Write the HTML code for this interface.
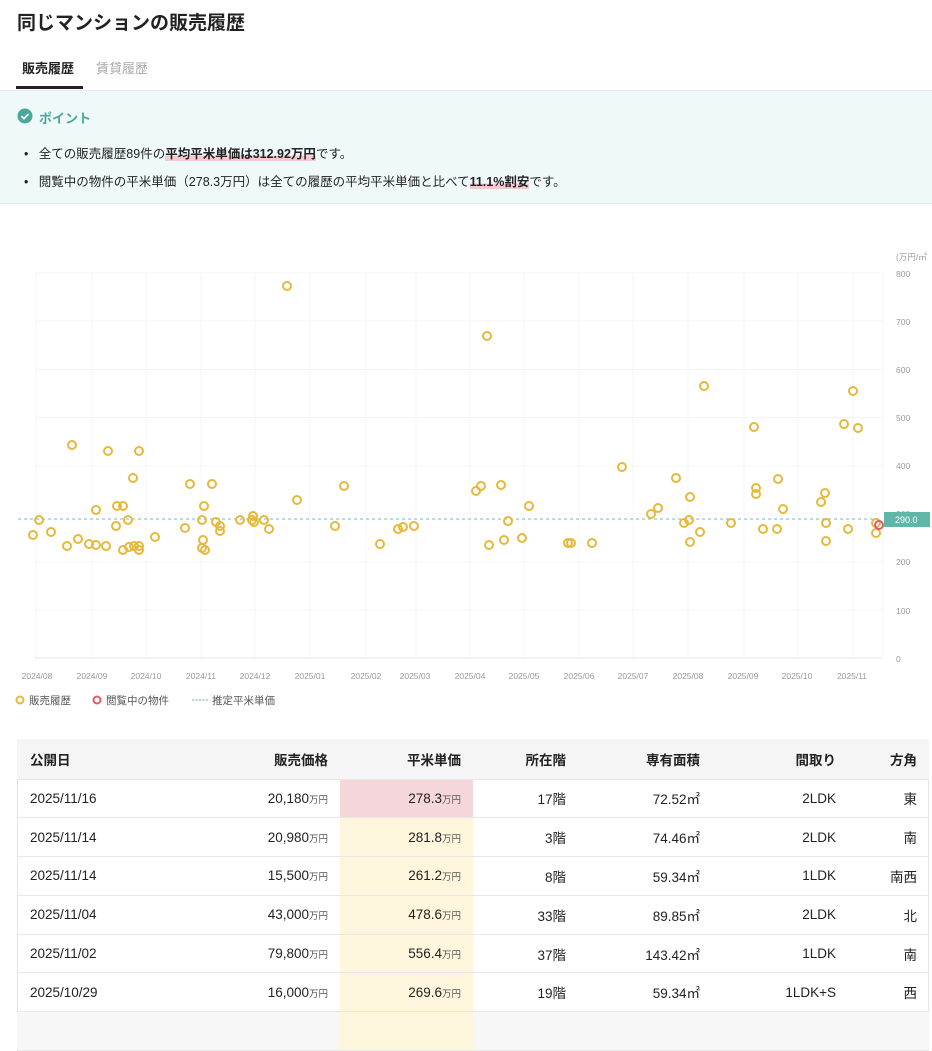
<!DOCTYPE html>
<html><head><meta charset="utf-8"><style>
*{margin:0;padding:0;box-sizing:border-box}
body{width:932px;height:1024px;overflow:hidden;background:#fff;font-family:"Liberation Sans","Noto Sans CJK JP",sans-serif;color:#222;position:relative}
.abs{position:absolute}
h1{position:absolute;left:17px;top:8px;font-size:19px;font-weight:bold;color:#222}
.tab{position:absolute;top:58px;font-size:13px}
.point{position:absolute;left:0;top:90px;width:932px;height:114px;background:#f0f9fa;border-top:1px solid #e6eaec;border-bottom:1px solid #e6eaec}
.li{position:absolute;left:24px;font-size:12.5px;color:#222}
.hl{font-weight:bold;background:linear-gradient(transparent 62%,#f6c9cf 62%)}
table{position:absolute;left:17px;top:739px;width:912px;border-collapse:collapse;font-size:13.5px;table-layout:fixed}
.tbl{position:absolute;left:17px;top:739px;width:912px;height:300px;border:1px solid #e4e4e4;border-radius:8px;overflow:hidden}
td,th{height:38.8px;border-bottom:1px solid #e8e8e8;text-align:right;padding:0 12px 0 0}
th{background:#f5f5f5;font-weight:bold;height:40px}
td:first-child,th:first-child{text-align:left;padding-left:13px}
small{font-size:9.5px;color:#555}
.u{background:#fdf6dc}
.r{background:#f5d6da}
</style></head><body>
<h1>同じマンションの販売履歴</h1>
<div class="tab" style="left:22px;font-weight:bold">販売履歴</div>
<div class="tab" style="left:96px;color:#aaa">賃貸履歴</div>
<div class="abs" style="left:16px;top:86px;width:67px;height:3px;background:#222"></div>
<div class="point">
<svg class="abs" style="left:17px;top:17px" width="16" height="16"><circle cx="8" cy="8" r="7.5" fill="#4aa89a"/><path d="M4.5 8.2l2.4 2.4 4.6-4.6" stroke="#fff" stroke-width="1.8" fill="none"/></svg>
<div class="abs" style="left:39px;top:17px;font-size:13px;color:#4aa89a;font-weight:bold">ポイント</div>
<div class="li" style="top:52px">•&nbsp;&nbsp; 全ての販売履歴89件の<span class="hl">平均平米単価は312.92万円</span>です。</div>
<div class="li" style="top:80px">•&nbsp;&nbsp; 閲覧中の物件の平米単価（278.3万円）は全ての履歴の平均平米単価と比べて<span class="hl">11.1%割安</span>です。</div>
</div>
<svg class="abs" style="left:0;top:240px" width="932" height="480" font-family="Liberation Sans, Noto Sans CJK JP, sans-serif">
<g stroke="#f4f4f4" stroke-width="1">
<line x1="35" x2="882" y1="33" y2="33"/><line x1="35" x2="882" y1="81" y2="81"/><line x1="35" x2="882" y1="129.5" y2="129.5"/><line x1="35" x2="882" y1="177.5" y2="177.5"/><line x1="35" x2="882" y1="226" y2="226"/><line x1="35" x2="882" y1="274" y2="274"/><line x1="35" x2="882" y1="322" y2="322"/><line x1="35" x2="882" y1="370" y2="370"/>
<line x1="36" x2="36" y1="33" y2="418"/><line x1="92" x2="92" y1="33" y2="418"/><line x1="146" x2="146" y1="33" y2="418"/><line x1="201" x2="201" y1="33" y2="418"/><line x1="255" x2="255" y1="33" y2="418"/><line x1="310" x2="310" y1="33" y2="418"/><line x1="366" x2="366" y1="33" y2="418"/><line x1="416" x2="416" y1="33" y2="418"/><line x1="470" x2="470" y1="33" y2="418"/><line x1="524" x2="524" y1="33" y2="418"/><line x1="579" x2="579" y1="33" y2="418"/><line x1="633" x2="633" y1="33" y2="418"/><line x1="688" x2="688" y1="33" y2="418"/><line x1="744" x2="744" y1="33" y2="418"/><line x1="798" x2="798" y1="33" y2="418"/><line x1="853" x2="853" y1="33" y2="418"/><line x1="883" x2="883" y1="33" y2="418"/>
</g>
<line x1="35" x2="882" y1="418" y2="418" stroke="#e6e6e6"/>
<g font-size="8.5" fill="#999">
<text x="896" y="20">(万円/㎡</text>
<text x="896" y="37">800</text><text x="896" y="85">700</text><text x="896" y="133">600</text><text x="896" y="181">500</text><text x="896" y="229">400</text><text x="896" y="277">300</text><text x="896" y="374">100</text><text x="896" y="422">0</text><text x="896" y="325">200</text>
</g>
<g font-size="8.5" fill="#999" text-anchor="middle">
<text x="37" y="439">2024/08</text><text x="92" y="439">2024/09</text><text x="146" y="439">2024/10</text><text x="201" y="439">2024/11</text><text x="255" y="439">2024/12</text><text x="310" y="439">2025/01</text><text x="366" y="439">2025/02</text><text x="415" y="439">2025/03</text><text x="470" y="439">2025/04</text><text x="524" y="439">2025/05</text><text x="579" y="439">2025/06</text><text x="633" y="439">2025/07</text><text x="688" y="439">2025/08</text><text x="743" y="439">2025/09</text><text x="797" y="439">2025/10</text><text x="852" y="439">2025/11</text>
</g>
<line x1="18" x2="882" y1="279" y2="279" stroke="#8cc6d0" stroke-width="1.2" stroke-dasharray="3,3"/>
<rect x="884" y="272" width="46" height="15" fill="#5fb7a8"/><text x="895" y="283" font-size="9" fill="#fff">290.0</text>
<g fill="none" stroke="#e6b93c" stroke-width="2" id="pts"></g>
<circle cx="879" cy="285" r="4" fill="none" stroke="#e05a6a" stroke-width="2"/>
<circle cx="20" cy="460" r="3.5" fill="none" stroke="#e6b93c" stroke-width="2"/>
<text x="29" y="464" font-size="10.5" fill="#555">販売履歴</text>
<circle cx="97" cy="460" r="3.5" fill="none" stroke="#e05a6a" stroke-width="2"/>
<text x="106" y="464" font-size="10.5" fill="#555">閲覧中の物件</text>
<line x1="192" x2="208" y1="460" y2="460" stroke="#5fb7a8" stroke-dasharray="2,1.5"/>
<text x="212" y="464" font-size="10.5" fill="#555">推定平米単価</text>
</svg>
<script>
var p=[[33,535],[39,520],[51,532],[67,546],[72,445],[78,539],[89,544],[96,510],[96,545],[106,546],[108,451],[116,526],[117,506],[123,506],[123,550],[128,520],[129,547],[134,546],[133,478],[139,451],[139,546],[139,550],[155,537],[185,528],[190,484],[202,520],[203,540],[202,548],[204,506],[205,550],[212,484],[216,522],[220,526],[220,531],[240,520],[252,520],[253,516],[254,522],[264,520],[269,529],[287,286],[297,500],[335,526],[344,486],[380,544],[398,529],[403,527],[414,526],[476,491],[481,486],[487,336],[489,545],[501,485],[504,540],[508,521],[522,538],[529,506],[568,543],[571,543],[592,543],[622,467],[651,514],[658,508],[676,478],[684,523],[689,520],[690,497],[690,542],[700,532],[704,386],[731,523],[754,427],[756,488],[756,494],[763,529],[777,529],[778,479],[783,509],[821,502],[825,493],[826,541],[826,523],[844,424],[853,391],[858,428],[848,529],[876,523],[876,533]];
var g=document.getElementById('pts'),s='';
p.forEach(function(a){s+='<circle cx="'+a[0]+'" cy="'+(a[1]-240)+'" r="4"/>';});
g.innerHTML=s;
</script>
<div class="tbl"></div>
<table>
<colgroup><col style="width:183px"><col style="width:140px"><col style="width:133px"><col style="width:105px"><col style="width:134px"><col style="width:136px"><col style="width:81px"></colgroup>
<tr><th>公開日</th><th>販売価格</th><th>平米単価</th><th>所在階</th><th>専有面積</th><th>間取り</th><th>方角</th></tr>
<tr><td>2025/11/16</td><td>20,180<small>万円</small></td><td class="r">278.3<small>万円</small></td><td>17階</td><td>72.52㎡</td><td>2LDK</td><td>東</td></tr>
<tr><td>2025/11/14</td><td>20,980<small>万円</small></td><td class="u">281.8<small>万円</small></td><td>3階</td><td>74.46㎡</td><td>2LDK</td><td>南</td></tr>
<tr><td>2025/11/14</td><td>15,500<small>万円</small></td><td class="u">261.2<small>万円</small></td><td>8階</td><td>59.34㎡</td><td>1LDK</td><td>南西</td></tr>
<tr><td>2025/11/04</td><td>43,000<small>万円</small></td><td class="u">478.6<small>万円</small></td><td>33階</td><td>89.85㎡</td><td>2LDK</td><td>北</td></tr>
<tr><td>2025/11/02</td><td>79,800<small>万円</small></td><td class="u">556.4<small>万円</small></td><td>37階</td><td>143.42㎡</td><td>1LDK</td><td>南</td></tr>
<tr><td>2025/10/29</td><td>16,000<small>万円</small></td><td class="u">269.6<small>万円</small></td><td>19階</td><td>59.34㎡</td><td>1LDK+S</td><td>西</td></tr>
<tr style="background:#f7f7f7"><td></td><td></td><td class="u"></td><td></td><td></td><td></td><td></td></tr>
</table>
</body></html>
